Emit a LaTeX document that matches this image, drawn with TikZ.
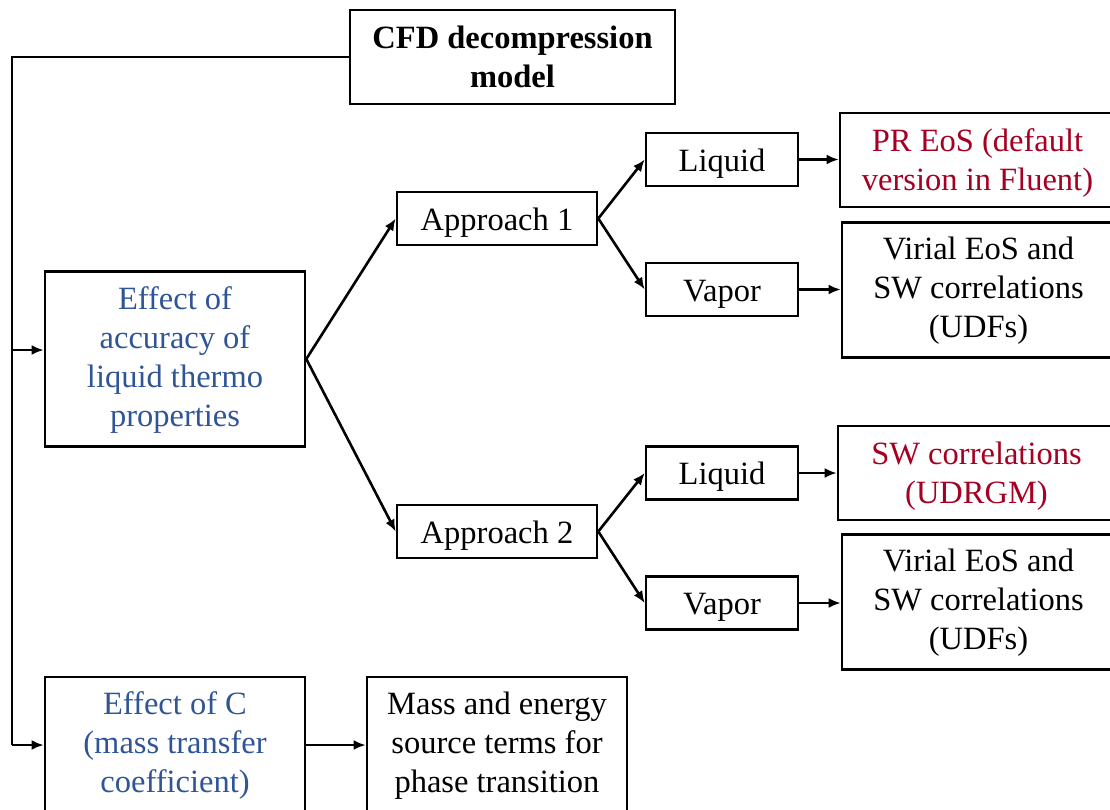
\documentclass[tikz,border=0pt]{standalone}
\usepackage{fontspec}
\setmainfont{Liberation Serif}
\usetikzlibrary{arrows.meta}
\definecolor{eblue}{RGB}{47,85,151}
\definecolor{ered}{RGB}{165,0,33}
\newcommand\lowtxt[2]{\raisebox{-#1}[\height][\depth]{\begin{tabular}{@{}c@{}}#2\end{tabular}}}
\begin{document}
\begin{tikzpicture}[x=1pt,y=-1pt,
  box/.style={draw, line width=2.6pt, inner sep=0pt,
    font=\fontsize{32.5}{39}\selectfont},
  conn/.style={line width=2.6pt, -{Latex[length=12pt,width=10pt]}},
  plain/.style={line width=2.6pt}]
\useasboundingbox (0,0) rectangle (1110,809);
\node[box, minimum width=325pt, minimum height=94pt] (cfd) at (512.5,57) {\lowtxt{3pt}{\bfseries CFD decompression\\\bfseries model}};
\node[box, minimum width=260pt, minimum height=175pt, text=eblue] (eff) at (175,359) {\lowtxt{1pt}{Effect of\\accuracy of\\liquid thermo\\properties}};
\node[box, minimum width=200pt, minimum height=53pt] (ap1) at (497,218.5) {\lowtxt{4pt}{Approach 1}};
\node[box, minimum width=200pt, minimum height=53pt] (ap2) at (497,531.5) {\lowtxt{4pt}{Approach 2}};
\node[box, minimum width=152pt, minimum height=53pt] (liq1) at (722,159.5) {\lowtxt{4pt}{Liquid}};
\node[box, minimum width=152pt, minimum height=53pt] (vap1) at (722,289.5) {\lowtxt{4pt}{Vapor}};
\node[box, minimum width=152pt, minimum height=53pt] (liq2) at (722,473) {\lowtxt{4pt}{Liquid}};
\node[box, minimum width=152pt, minimum height=53pt] (vap2) at (722,603) {\lowtxt{4pt}{Vapor}};
\node[box, minimum width=275pt, minimum height=94pt, text=ered] (pr) at (977.5,160) {\lowtxt{3pt}{PR EoS (default\\version in Fluent)}};
\node[box, minimum width=273pt, minimum height=135pt] (vir1) at (978.5,290) {\lowtxt{0.5pt}{Virial EoS and\\SW correlations\\(UDFs)}};
\node[box, minimum width=277pt, minimum height=94pt, text=ered] (sw) at (976.5,473) {\lowtxt{3pt}{SW correlations\\(UDRGM)}};
\node[box, minimum width=273pt, minimum height=135pt] (vir2) at (978.5,602) {\lowtxt{0.5pt}{Virial EoS and\\SW correlations\\(UDFs)}};
\node[box, minimum width=260pt, minimum height=136pt, text=eblue] (effc) at (175,745) {\lowtxt{0.5pt}{Effect of C\\(mass transfer\\coefficient)}};
\node[box, minimum width=260pt, minimum height=136pt] (mass) at (497,745) {\lowtxt{0.5pt}{Mass and energy\\source terms for\\phase transition}};
\coordinate (corner) at (12,57);
\coordinate (split) at (12,350);
\coordinate (bottom) at (12,745);
\draw[plain] (cfd.west) -- (corner) -- (bottom);
\draw[conn] (split) -- (eff.west |- split);
\draw[conn] (bottom) -- (effc.west);
\draw[conn] (eff.east) -- (ap1.west);
\draw[conn] (eff.east) -- (ap2.west);
\draw[conn] (ap1.east) -- (liq1.west);
\draw[conn] (ap1.east) -- (vap1.west);
\draw[conn] (ap2.east) -- (liq2.west);
\draw[conn] (ap2.east) -- (vap2.west);
\draw[conn] (liq1.east) -- (pr.west |- liq1.east);
\draw[conn] (vap1.east) -- (vir1.west |- vap1.east);
\draw[conn] (liq2.east) -- (sw.west |- liq2.east);
\draw[conn] (vap2.east) -- (vir2.west |- vap2.east);
\draw[conn] (effc.east) -- (mass.west);
\end{tikzpicture}
\end{document}
